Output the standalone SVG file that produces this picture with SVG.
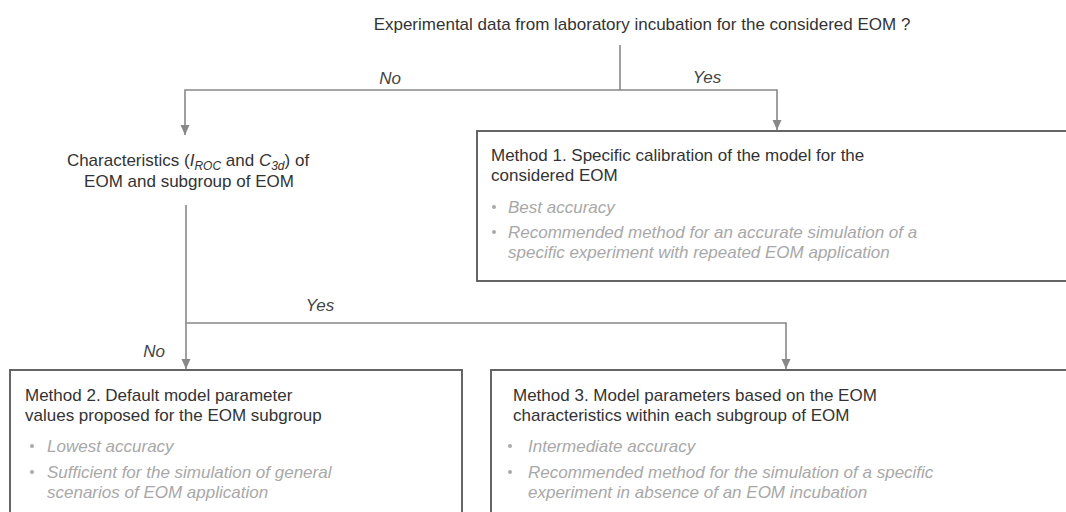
<svg xmlns="http://www.w3.org/2000/svg" width="1066" height="512" viewBox="0 0 1066 512">
<style>
text{font-family:"Liberation Sans",Arial,sans-serif;}
.t{font-size:17px;fill:#333;}
.b{font-size:17px;fill:#a8a8a8;font-style:italic;}
.lbl{font-size:17px;fill:#444;font-style:italic;}
.box{fill:#fff;stroke:#555;stroke-width:1.8;}
.c{fill:none;stroke:#888;stroke-width:1.6;}
.dot{fill:#aaa;}
</style>
<defs>
<marker id="ah" markerWidth="11" markerHeight="11" refX="10" refY="5" orient="auto" markerUnits="userSpaceOnUse">
<path d="M0,0.5 L10,5 L0,9.5 Z" fill="#888"/>
</marker>
</defs>
<rect width="1066" height="512" fill="#fff"/>
<g id="connectors">
<line class="c" x1="620" y1="45" x2="620" y2="90"/>
<polyline class="c" points="620,90 185,90 185,135" marker-end="url(#ah)"/>
<polyline class="c" points="620,90 777,90 777,130" marker-end="url(#ah)"/>
<line class="c" x1="186" y1="205" x2="186" y2="369" marker-end="url(#ah)"/>
<polyline class="c" points="186,323 786,323 786,369" marker-end="url(#ah)"/>
<text class="lbl" x="390" y="84" text-anchor="middle">No</text>
<text class="lbl" x="707" y="83" text-anchor="middle">Yes</text>
<text class="lbl" x="320" y="311" text-anchor="middle">Yes</text>
<text class="lbl" x="154" y="357" text-anchor="middle">No</text>
</g>
<g id="question">
<text class="t" x="642" y="30" text-anchor="middle">Experimental data from laboratory incubation for the considered EOM ?</text>
</g>
<g id="characteristics">
<text class="t" x="188" y="166" text-anchor="middle">Characteristics (<tspan font-style="italic">I</tspan><tspan font-style="italic" font-size="12" dy="4">ROC</tspan><tspan dy="-4"> and </tspan><tspan font-style="italic">C</tspan><tspan font-style="italic" font-size="12" dy="4">3d</tspan><tspan dy="-4">) of</tspan></text>
<text class="t" x="189" y="187" text-anchor="middle">EOM and subgroup of EOM</text>
</g>
<g id="method1">
<rect class="box" x="477" y="131" width="600" height="150"/>
<text class="t" x="491" y="161">Method 1. Specific calibration of the model for the</text>
<text class="t" x="491" y="181">considered EOM</text>
<circle class="dot" cx="494" cy="207" r="2"/>
<text class="b" x="508" y="213">Best accuracy</text>
<circle class="dot" cx="494" cy="232" r="2"/>
<text class="b" x="508" y="238">Recommended method for an accurate simulation of a</text>
<text class="b" x="508" y="258">specific experiment with repeated EOM application</text>
</g>
<g id="method2">
<rect class="box" x="10" y="370" width="452" height="160"/>
<text class="t" x="25" y="401">Method 2. Default model parameter</text>
<text class="t" x="25" y="421">values proposed for the EOM subgroup</text>
<circle class="dot" cx="32" cy="446" r="2"/>
<text class="b" x="47" y="452">Lowest accuracy</text>
<circle class="dot" cx="32" cy="472" r="2"/>
<text class="b" x="47" y="478">Sufficient for the simulation of general</text>
<text class="b" x="47" y="498">scenarios of EOM application</text>
</g>
<g id="method3">
<rect class="box" x="491" y="370" width="600" height="160"/>
<text class="t" x="513" y="401">Method 3. Model parameters based on the EOM</text>
<text class="t" x="513" y="421">characteristics within each subgroup of EOM</text>
<circle class="dot" cx="510" cy="446" r="2"/>
<text class="b" x="528" y="452">Intermediate accuracy</text>
<circle class="dot" cx="510" cy="472" r="2"/>
<text class="b" x="528" y="478">Recommended method for the simulation of a specific</text>
<text class="b" x="528" y="498">experiment in absence of an EOM incubation</text>
</g>
</svg>
